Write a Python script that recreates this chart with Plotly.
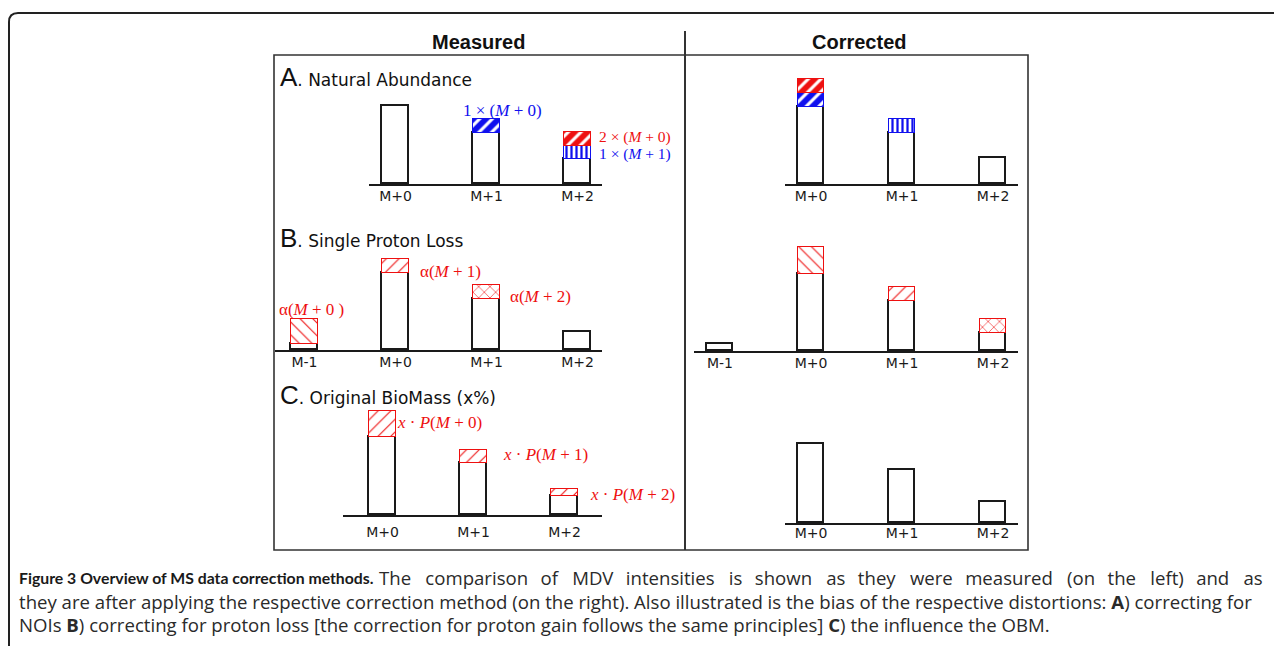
import plotly.graph_objects as go

OFF = 8            # the page body margin offsets the figure by 8 px
W, H = 1274, 638   # figure size


def px(x):
    return (x - OFF) / W


def py(y):
    return 1 - (y - OFF) / H


# ---------------- data (intensities, arbitrary units) ----------------
categories = ["M-1", "M+0", "M+1", "M+2"]

# A. Natural Abundance
a_meas_base = [None, 78, 51, 25]
a_meas_blue_diag = [None, None, 14, None]
a_meas_blue_vert = [None, None, None, 13]
a_meas_red_diag = [None, None, None, 14]

a_corr_base = [None, 77, 51, 26]
a_corr_blue_diag = [None, 14, None, None]
a_corr_blue_vert = [None, None, 14, None]
a_corr_red_diag = [None, 14, None, None]

# B. Single Proton Loss
b_meas_base = [6, 77, 51, 18]
b_meas_red_back = [25, None, None, None]
b_meas_red_fwd = [None, 14, None, None]
b_meas_red_cross = [None, None, 14, None]

b_corr_base = [7, 77, 50, 18]
b_corr_red_back = [None, 27, None, None]
b_corr_red_fwd = [None, None, 14, None]
b_corr_red_cross = [None, None, None, 14]

# C. Original BioMass
c_meas_base = [None, 78, 52, 19]
c_meas_red_fwd = [None, 26, 13, 7]

c_corr_base = [None, 79, 53, 21]

panel_titles = ["Natural Abundance", "Single Proton Loss", "Original BioMass (x%)"]
panel_letters = ["A", "B", "C"]
column_titles = ["Measured", "Corrected"]

# ---------------- styles ----------------
BLUE = "#1010ee"
RED = "#ee1010"
STYLE = {
    "base": dict(color="white", line=dict(color="#1a1a1a", width=1.6)),
    "blue_diag": dict(color=BLUE, line=dict(color=BLUE, width=1),
                      pattern=dict(shape="/", bgcolor=BLUE, fgcolor="white", size=9,
                                   solidity=0.35, fillmode="replace")),
    "blue_vert": dict(color="white", line=dict(color=BLUE, width=1),
                      pattern=dict(shape="|", bgcolor="white", fgcolor=BLUE, size=5,
                                   solidity=0.45, fillmode="replace")),
    "red_diag": dict(color=RED, line=dict(color=RED, width=1),
                     pattern=dict(shape="/", bgcolor=RED, fgcolor="white", size=9,
                                  solidity=0.35, fillmode="replace")),
    "red_back": dict(color="white", line=dict(color=RED, width=1),
                     pattern=dict(shape="\\", bgcolor="white", fgcolor=RED, size=9,
                                  solidity=0.12, fillmode="replace")),
    "red_fwd": dict(color="white", line=dict(color=RED, width=1),
                    pattern=dict(shape="/", bgcolor="white", fgcolor=RED, size=9,
                                 solidity=0.12, fillmode="replace")),
    "red_cross": dict(color="white", line=dict(color=RED, width=1),
                      pattern=dict(shape="x", bgcolor="white", fgcolor=RED, size=8,
                                   solidity=0.14, fillmode="replace")),
}

panels = [
    [(a_meas_base, "base"), (a_meas_blue_diag, "blue_diag"),
     (a_meas_blue_vert, "blue_vert"), (a_meas_red_diag, "red_diag")],
    [(a_corr_base, "base"), (a_corr_blue_diag, "blue_diag"),
     (a_corr_blue_vert, "blue_vert"), (a_corr_red_diag, "red_diag")],
    [(b_meas_base, "base"), (b_meas_red_back, "red_back"),
     (b_meas_red_fwd, "red_fwd"), (b_meas_red_cross, "red_cross")],
    [(b_corr_base, "base"), (b_corr_red_back, "red_back"),
     (b_corr_red_fwd, "red_fwd"), (b_corr_red_cross, "red_cross")],
    [(c_meas_base, "base"), (c_meas_red_fwd, "red_fwd")],
    [(c_corr_base, "base")],
]

# layout geometry (page pixels): axis-line left, right, centre of first category,
# baseline y, tick-label standoff
GEOM = [
    (369, 602, 304.5, 184, -2),
    (785, 1018, 720, 184, -2),
    (275, 602, 304.5, 350, -2),
    (694, 1018, 720, 351, -2),
    (343, 602, 291.5, 515, 3),
    (785, 1018, 720, 523, -4),
]
STEP = 91.0
YSPAN = 120

fig = go.Figure()
layout_axes = {}
for i, (layers, (xl, xr, c0, base, so)) in enumerate(zip(panels, GEOM)):
    n = "" if i == 0 else str(i + 1)
    for vals, sty in layers:
        fig.add_trace(go.Bar(x=categories, y=vals, width=0.29, marker=STYLE[sty],
                             xaxis="x" + n, yaxis="y" + n, hoverinfo="skip",
                             showlegend=False))
    layout_axes["xaxis" + n] = dict(
        domain=[px(xl), px(xr)], anchor="y" + n, type="category",
        categoryorder="array", categoryarray=categories,
        range=[(xl - c0) / STEP, (xr - c0) / STEP],
        showline=True, linecolor="#1a1a1a", linewidth=1.6, showgrid=False,
        zeroline=False, ticks="", ticklabelstandoff=so,
        tickfont=dict(family="DejaVu Sans", size=14, color="#1a1a1a"), fixedrange=True)
    layout_axes["yaxis" + n] = dict(
        domain=[py(base), py(base - YSPAN)], anchor="x" + n, range=[0, YSPAN],
        visible=False, fixedrange=True)

fig.update_layout(**layout_axes)

# ---------------- frame shapes ----------------
shapes = [
    dict(type="path", xref="paper", yref="paper",
         path=f"M {px(9)} {py(660)} L {px(9)} {py(22)} Q {px(9)} {py(13)} {px(18)} {py(13)} L {px(1300)} {py(13)}",
         line=dict(color="#222", width=2)),
    dict(type="rect", xref="paper", yref="paper", x0=px(274), x1=px(1028),
         y0=py(550), y1=py(55), line=dict(color="#333", width=1.6)),
    dict(type="line", xref="paper", yref="paper", x0=px(685), x1=px(685),
         y0=py(550), y1=py(31), line=dict(color="#333", width=2)),
]

ann = []


def text(x, y, s, size, color="#111", family="Liberation Sans", xanchor="left", yanchor="middle"):
    ann.append(dict(x=px(x), y=py(y), xref="paper", yref="paper", text=s, showarrow=False,
                    xanchor=xanchor, yanchor=yanchor, align="left",
                    font=dict(family=family, size=size, color=color)))


text(478.5, 42, "<b>%s</b>" % column_titles[0], 20, xanchor="center")
text(858.5, 42, "<b>%s</b>" % column_titles[1], 20, xanchor="center")

for letter, title, ty in zip(panel_letters, panel_titles, [77, 238, 395]):
    text(278, ty,
         "<span style='font-family:Liberation Sans;font-size:26px'>%s</span>. %s" % (letter, title),
         17, family="DejaVu Sans")

SERIF = "Liberation Serif"
text(502, 110, "1 × (<i>M</i> + 0)", 17, BLUE, SERIF, xanchor="center")
text(597, 136.5, "2 × (<i>M</i> + 0)", 15.5, RED, SERIF)
text(597, 154.5, "1 × (<i>M</i> + 1)", 15.5, BLUE, SERIF)
text(277, 309, "α(<i>M</i> + 0 )", 17, RED, SERIF)
text(418, 271, "α(<i>M</i> + 1)", 17, RED, SERIF)
text(508, 296, "α(<i>M</i> + 2)", 17, RED, SERIF)
text(395, 422, "<i>x</i> · <i>P</i>(<i>M</i> + 0)", 17, RED, SERIF)
text(501, 454, "<i>x</i> · <i>P</i>(<i>M</i> + 1)", 17, RED, SERIF)
text(588, 494, "<i>x</i> · <i>P</i>(<i>M</i> + 2)", 17, RED, SERIF)

# caption (line 1 is justified in the original: widen its word gaps)
CAP = "Open Sans"
line1_words = "The comparison of MDV intensities is shown as they were measured (on the left) and as".split(" ")
line1 = line1_words[0]
for k, w in enumerate(line1_words[1:]):
    line1 += ("\u2002\u2009\u200a" if k % 2 == 0 else "\u2002\u2009") + w
text(17, 577, "<b>Figure 3 Overview of MS data correction methods.</b>", 15.8, "#1a1a1a", "Lato")
text(377, 577, line1, 18.6, "#2a2a2a", CAP)
text(17, 601, "they are after applying the respective correction method (on the right). Also illustrated is the bias of the respective distortions: <b>A</b>) correcting for",
     18.6, "#2a2a2a", CAP)
text(17, 624, "NOIs <b>B</b>) correcting for proton loss [the correction for proton gain follows the same principles] <b>C</b>) the influence the OBM.",
     18.6, "#2a2a2a", CAP)

fig.update_layout(
    width=W, height=H, margin=dict(l=0, r=0, t=0, b=0),
    paper_bgcolor="white", plot_bgcolor="rgba(0,0,0,0)",
    barmode="stack", bargap=0, showlegend=False,
    shapes=shapes, annotations=ann,
)

fig.write_html("out.html")
